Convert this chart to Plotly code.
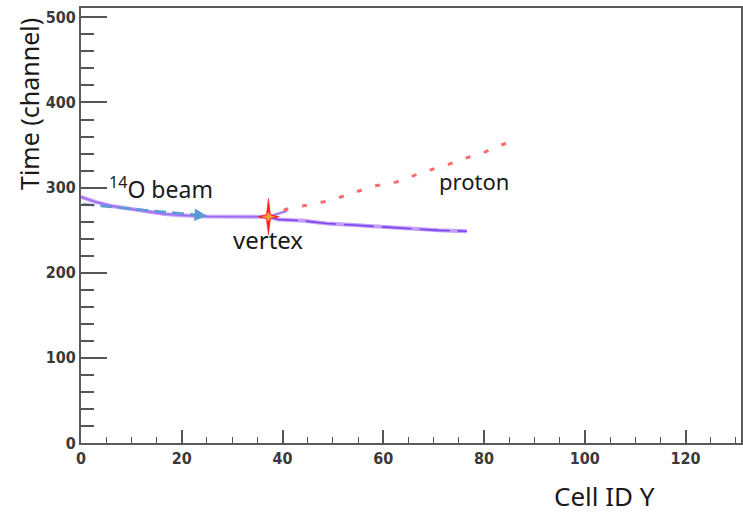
import math
import plotly.graph_objects as go

# ---- data ----
beam_x = [0.0, 3.0, 6.4, 10.0, 13.1, 16.5, 19.7, 25.0, 37.2]
beam_y = [289.0, 283.0, 278.0, 274.5, 271.5, 269.0, 267.6, 266.2, 265.8]

arrow_x = [0.3, 25.0]
arrow_y = [280.5, 266.8]

track_x = [37.2, 39.2, 44.2, 48.8, 54.0, 59.4, 66.0, 71.0, 76.6]
track_y = [265.8, 262.5, 261.0, 257.9, 256.0, 254.0, 251.2, 249.8, 248.8]

branch_x = [37.2, 40.9]
branch_y = [265.8, 272.7]

proton_x = [40.2, 42.2, 46.2, 50.1, 54.0, 58.0, 62.7, 68.0, 72.3, 76.0, 80.3, 82.3, 86.3]
proton_y = [273.5, 277.0, 280.5, 286.0, 293.8, 301.7, 306.7, 318.5, 326.0, 334.0, 342.0, 347.8, 356.0]

vertex_x = [37.2]
vertex_y = [265.8]

x_range = [0, 131]
y_range = [0, 511]

# ---- layout constants ----
W, H = 743, 519
ML, MR, MT, MB = 81, 2, 8, 76
pw, ph = W - ML - MR, H - MT - MB
ux = (x_range[1] - x_range[0]) / pw  # data units per px
uy = (y_range[1] - y_range[0]) / ph


def star(cx, cy, rv, rh, ri):
    xs, ys = [], []
    for k in range(8):
        a = math.pi / 2 - k * math.pi / 4
        if k % 2 == 0:
            r = rv if k % 4 == 0 else rh
        else:
            r = ri
        xs.append(cx + r * math.cos(a) * ux)
        ys.append(cy + r * math.sin(a) * uy)
    xs.append(xs[0]); ys.append(ys[0])
    return xs, ys


fig = go.Figure()

# beam track (lavender)
fig.add_trace(go.Scatter(x=beam_x, y=beam_y, mode="lines",
                         line=dict(color="#c7a3f8", width=4), hoverinfo="skip"))
fig.add_trace(go.Scatter(x=beam_x, y=beam_y, mode="lines",
                         line=dict(color="#9a6cf2", width=1.5), hoverinfo="skip"))
# blue dashed beam arrow
fig.add_trace(go.Scatter(x=arrow_x, y=arrow_y, mode="lines",
                         line=dict(color="#5b9bd5", width=2.5, dash="12px,6px"),
                         hoverinfo="skip"))
# post-vertex track
fig.add_trace(go.Scatter(x=track_x, y=track_y, mode="lines",
                         line=dict(color="#c2a0f8", width=4), hoverinfo="skip"))
fig.add_trace(go.Scatter(x=track_x, y=track_y, mode="lines",
                         line=dict(color="#7a45ee", width=1.6, dash="30px,8px"),
                         hoverinfo="skip"))
fig.add_trace(go.Scatter(x=branch_x, y=branch_y, mode="lines",
                         line=dict(color="#a77cf5", width=2.5), hoverinfo="skip"))
# proton (red dashed)
fig.add_trace(go.Scatter(x=proton_x, y=proton_y, mode="lines",
                         line=dict(color="#ff6b6b", width=3, dash="5px,14px"),
                         hoverinfo="skip"))
# vertex star
sx, sy = star(vertex_x[0], vertex_y[0], 18.5, 11, 3.0)
fig.add_trace(go.Scatter(x=sx, y=sy, mode="lines", fill="toself",
                         fillcolor="#ff1f1f", line=dict(color="#ff1f1f", width=0.5),
                         hoverinfo="skip"))
ix, iy = star(vertex_x[0], vertex_y[0], 4.5, 6.0, 2.0)
fig.add_trace(go.Scatter(x=ix, y=iy, mode="lines", fill="toself",
                         fillcolor="#f5a23a", line=dict(color="#f5a23a", width=0.5),
                         hoverinfo="skip"))

# arrow head
fig.add_annotation(x=arrow_x[1], y=arrow_y[1], ax=arrow_x[1] - 3,
                   ay=arrow_y[1] + 3 * (arrow_y[0] - arrow_y[1]) / (arrow_x[1] - arrow_x[0]),
                   xref="x", yref="y", axref="x", ayref="y", text=" ",
                   showarrow=True, arrowhead=2, arrowsize=1.0, arrowwidth=2.5,
                   arrowcolor="#5b9bd5")

label_font = dict(family="Noto Sans, Open Sans, sans-serif", color="#1a1a1a")
common = dict(showarrow=False, xanchor="center", yanchor="middle")
fig.add_annotation(x=15.8, y=300, xref="x", yref="y",
                   text="<sup>14</sup>O beam", font=dict(size=23, **label_font), **common)
fig.add_annotation(x=37.1, y=238.5, xref="x", yref="y",
                   text="vertex", font=dict(size=24, **label_font), **common)
fig.add_annotation(x=78.1, y=308, xref="x", yref="y",
                   text="proton", font=dict(size=22, **label_font), **common)

# axis titles
fig.add_annotation(x=(29 - ML) / pw, y=(H - MB - 104) / ph, xref="paper", yref="paper",
                   text="Time (channel)", textangle=-90,
                   font=dict(size=25, **label_font), **common)
fig.add_annotation(x=(604 - ML) / pw, y=(H - MB - 496) / ph, xref="paper", yref="paper",
                   text="Cell ID Y", font=dict(size=26, **label_font), **common)

tick_font = dict(family="Liberation Sans Narrow, DejaVu Sans Condensed, sans-serif",
                 size=16, color="#3a3a3a", weight="bold")

fig.update_layout(
    width=W, height=H,
    margin=dict(l=ML, r=MR, t=MT, b=MB, autoexpand=False),
    paper_bgcolor="white", plot_bgcolor="white",
    showlegend=False,
    xaxis=dict(range=x_range, tickmode="linear", tick0=0, dtick=20,
               ticks="inside", ticklen=13, tickwidth=1.6, tickcolor="#555555",
               minor=dict(ticks="inside", ticklen=6, dtick=5, tickwidth=1.4,
                          tickcolor="#555555", showgrid=False),
               showline=True, linecolor="#5a5a5a", linewidth=2, mirror=True,
               showgrid=False, zeroline=False, tickfont=tick_font, automargin=False),
    yaxis=dict(range=y_range, tickmode="linear", tick0=0, dtick=100,
               ticks="inside", ticklen=26, tickwidth=2, tickcolor="#555555",
               minor=dict(ticks="inside", ticklen=13, dtick=20, tickwidth=2,
                          tickcolor="#555555", showgrid=False),
               showline=True, linecolor="#5a5a5a", linewidth=2, mirror=True,
               showgrid=False, zeroline=False, tickfont=tick_font, automargin=False),
)

fig.write_html("out.html",
               config={"displayModeBar": False},
               post_script="document.body.style.margin='0';"
                           "document.body.style.overflow='hidden';")
